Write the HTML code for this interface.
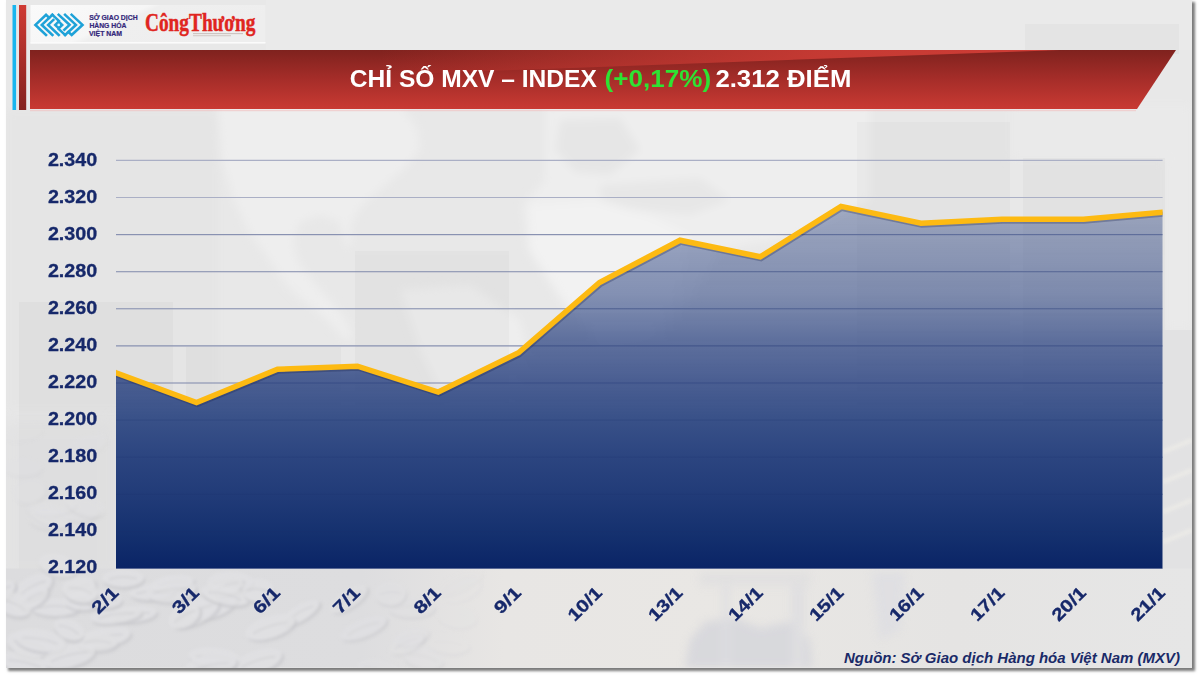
<!DOCTYPE html>
<html lang="vi">
<head>
<meta charset="utf-8">
<title>CHỈ SỐ MXV – INDEX</title>
<style>
html,body{margin:0;padding:0;background:#fff;}
body{width:1200px;height:675px;overflow:hidden;position:relative;font-family:"Liberation Sans",sans-serif;}
#slide{position:absolute;left:6px;top:0;width:1186px;height:667.5px;background:#e8e8e8;box-shadow:2px 2px 2.5px 0.5px rgba(0,0,0,0.52);}
svg{position:absolute;left:0;top:0;}
text{font-family:"Liberation Sans",sans-serif;}
.serif{font-family:"Liberation Serif",serif;}
</style>
</head>
<body>
<div id="slide"></div>
<svg width="1200" height="675" viewBox="0 0 1200 675">
<defs>
  <linearGradient id="gBanner" x1="0" y1="0" x2="0" y2="1">
    <stop offset="0" stop-color="#7f221e"/>
    <stop offset="0.5" stop-color="#a62d29"/>
    <stop offset="1" stop-color="#c93a33"/>
  </linearGradient>
  <linearGradient id="gWedge" gradientUnits="userSpaceOnUse" x1="380" y1="0" x2="1060" y2="0">
    <stop offset="0" stop-color="#cc3c35" stop-opacity="0"/>
    <stop offset="0.35" stop-color="#cc3c35" stop-opacity="0.5"/>
    <stop offset="0.65" stop-color="#cc3c35" stop-opacity="0.9"/>
    <stop offset="1" stop-color="#cf3d36" stop-opacity="1"/>
  </linearGradient>
  <linearGradient id="gRedBar" x1="0" y1="0" x2="0" y2="1">
    <stop offset="0" stop-color="#cf3a33"/>
    <stop offset="1" stop-color="#84231f"/>
  </linearGradient>
  <linearGradient id="gArea" gradientUnits="userSpaceOnUse" x1="0" y1="206" x2="0" y2="568">
    <stop offset="0" stop-color="#3a5089" stop-opacity="0.42"/>
    <stop offset="0.25" stop-color="#3a5089" stop-opacity="0.61"/>
    <stop offset="0.37" stop-color="#3a5089" stop-opacity="0.79"/>
    <stop offset="0.48" stop-color="#3a5089" stop-opacity="0.905"/>
    <stop offset="0.58" stop-color="#3a5289" stop-opacity="1"/>
    <stop offset="0.69" stop-color="#2c4580"/>
    <stop offset="0.80" stop-color="#213b78"/>
    <stop offset="0.91" stop-color="#14306e"/>
    <stop offset="1" stop-color="#0a2466"/>
  </linearGradient>
  <linearGradient id="gLogoBox" x1="0" y1="0" x2="1" y2="0.35">
    <stop offset="0" stop-color="#fafafa"/>
    <stop offset="0.45" stop-color="#f6f6f6"/>
    <stop offset="0.5" stop-color="#efefef"/>
    <stop offset="1" stop-color="#eeeeee"/>
  </linearGradient>
  <linearGradient id="gBottom" gradientUnits="userSpaceOnUse" x1="6" y1="0" x2="1192" y2="0">
    <stop offset="0" stop-color="#dcdcde"/>
    <stop offset="0.3" stop-color="#dddddf"/>
    <stop offset="0.42" stop-color="#e8e6e4"/>
    <stop offset="0.6" stop-color="#e9e7e4"/>
    <stop offset="0.8" stop-color="#e5e4e3"/>
    <stop offset="1" stop-color="#e6e6e6"/>
  </linearGradient>
  <filter id="blur8" x="-20%" y="-20%" width="140%" height="140%"><feGaussianBlur stdDeviation="8"/></filter>
  <filter id="blur1" x="-20%" y="-20%" width="140%" height="140%"><feGaussianBlur stdDeviation="1.6"/></filter>
  <filter id="blur3" x="-20%" y="-20%" width="140%" height="140%"><feGaussianBlur stdDeviation="4"/></filter>
  <clipPath id="clipSlide"><rect x="6" y="0" width="1186" height="667.5"/></clipPath>
  <clipPath id="clipPlot"><rect x="116" y="100" width="1046.6" height="480"/></clipPath>
</defs>

<g clip-path="url(#clipSlide)" id="bg">
  <rect x="6" y="0" width="1186" height="668" fill="#e8e8e8"/>
  <!-- top strip a bit lighter -->
  <rect x="266" y="0" width="930" height="50" fill="#eaeaea"/>
  <!-- faint world map -->
  <g filter="url(#blur3)">
    <rect x="6" y="110" width="212" height="300" fill="#e5e5e5"/>
    <path d="M217,104 L222,160 L232,195 L248,230 L268,258 L285,283 L300,298 L318,312 L335,328 L347,342 L352,335 L345,318 L330,300 L312,280 L298,262 L293,240 L300,222 L320,215 L340,222 L347,250 L352,240 L350,225 L362,205 L385,185 L405,168 L420,150 L418,130 L400,104 Z" fill="#eeeeee"/>
    <path d="M400,290 L470,285 L520,320 L530,360 L500,420 L470,440 L445,400 L420,350 Z" fill="#eeeeee"/>
    <path d="M545,104 L870,104 L870,200 L800,235 L720,250 L690,300 L660,340 L600,345 L560,300 L528,250 L523,205 L545,180 Z" fill="#eeeeee"/>
    <path d="M560,120 L620,118 L640,150 L610,175 L575,172 L555,150 Z" fill="#e6e6e6"/>
    <path d="M600,185 L700,178 L730,200 L690,215 L640,210 L600,205 Z" fill="#e7e7e7"/>
    <path d="M530,205 L600,200 L650,215 L690,235 L680,290 L650,340 L600,345 L565,300 L530,250 Z" fill="#f2f2f2"/>
    <path d="M1010,104 L1192,104 L1192,330 L1165,330 L1165,160 L1010,160 Z" fill="#eaeaea"/>
  </g>
  <!-- faint bar shapes -->
  <g fill="#000" opacity="0.02">
    <rect x="19" y="302" width="154" height="270"/>
    <rect x="186" y="347" width="155" height="225"/>
    <rect x="355" y="251" width="154" height="320"/>
    <rect x="857" y="122" width="153" height="450"/>
    <rect x="1023" y="158" width="142" height="420"/>
    <rect x="1025" y="24" width="154" height="30"/>
  </g>
  <!-- left/right margins lower part -->
  <rect x="0" y="420" width="116" height="160" fill="#dadadc" opacity="0.4" filter="url(#blur8)"/>
  <rect x="1163" y="330" width="30" height="240" fill="#e0e0e1" opacity="0.8"/>
  <g stroke="#ecebe7" stroke-width="5" opacity="0.8" filter="url(#blur1)"><line x1="1163" y1="452" x2="1192" y2="440"/><line x1="1163" y1="482" x2="1192" y2="470"/><line x1="1163" y1="512" x2="1192" y2="500"/><line x1="1163" y1="542" x2="1192" y2="530"/></g>
  <!-- bottom band -->
  <rect x="6" y="568.5" width="1186" height="100" fill="url(#gBottom)"/>
  <g filter="url(#blur1)"><g transform="translate(152,592) rotate(-3)" opacity="0.75"><ellipse cx="1.5" cy="3" rx="23" ry="8" fill="#c8c8cc"/><ellipse rx="23" ry="8" fill="#e1e1e3"/><path d="M-16,1 Q0,-3 16,1" stroke="#cfcfd2" stroke-width="1.5" fill="none"/></g><g transform="translate(172,583) rotate(-9)" opacity="0.75"><ellipse cx="1.5" cy="3" rx="22" ry="8" fill="#c8c8cc"/><ellipse rx="22" ry="8" fill="#e1e1e3"/><path d="M-15,1 Q0,-3 15,1" stroke="#cfcfd2" stroke-width="1.5" fill="none"/></g><g transform="translate(33,587) rotate(-28)" opacity="0.75"><ellipse cx="1.5" cy="3" rx="21" ry="11" fill="#c8c8cc"/><ellipse rx="21" ry="11" fill="#e1e1e3"/><path d="M-14,1 Q0,-3 14,1" stroke="#cfcfd2" stroke-width="1.5" fill="none"/></g><g transform="translate(105,637) rotate(-11)" opacity="0.75"><ellipse cx="1.5" cy="3" rx="26" ry="10" fill="#c8c8cc"/><ellipse rx="26" ry="10" fill="#e1e1e3"/><path d="M-18,1 Q0,-3 18,1" stroke="#cfcfd2" stroke-width="1.5" fill="none"/></g><g transform="translate(459,582) rotate(-26)" opacity="0.10"><ellipse cx="1.5" cy="3" rx="25" ry="9" fill="#c8c8cc"/><ellipse rx="25" ry="9" fill="#e1e1e3"/><path d="M-18,1 Q0,-3 18,1" stroke="#cfcfd2" stroke-width="1.5" fill="none"/></g><g transform="translate(55,607) rotate(-0)" opacity="0.75"><ellipse cx="1.5" cy="3" rx="25" ry="9" fill="#c8c8cc"/><ellipse rx="25" ry="9" fill="#e1e1e3"/><path d="M-17,1 Q0,-3 17,1" stroke="#cfcfd2" stroke-width="1.5" fill="none"/></g><g transform="translate(300,613) rotate(-31)" opacity="0.75"><ellipse cx="1.5" cy="3" rx="22" ry="8" fill="#c8c8cc"/><ellipse rx="22" ry="8" fill="#e1e1e3"/><path d="M-15,1 Q0,-3 15,1" stroke="#cfcfd2" stroke-width="1.5" fill="none"/></g><g transform="translate(97,642) rotate(0)" opacity="0.75"><ellipse cx="1.5" cy="3" rx="21" ry="9" fill="#c8c8cc"/><ellipse rx="21" ry="9" fill="#e1e1e3"/><path d="M-14,1 Q0,-3 14,1" stroke="#cfcfd2" stroke-width="1.5" fill="none"/></g><g transform="translate(213,606) rotate(-20)" opacity="0.75"><ellipse cx="1.5" cy="3" rx="25" ry="11" fill="#c8c8cc"/><ellipse rx="25" ry="11" fill="#e1e1e3"/><path d="M-17,1 Q0,-3 17,1" stroke="#cfcfd2" stroke-width="1.5" fill="none"/></g><g transform="translate(270,627) rotate(-18)" opacity="0.75"><ellipse cx="1.5" cy="3" rx="26" ry="11" fill="#c8c8cc"/><ellipse rx="26" ry="11" fill="#e1e1e3"/><path d="M-18,1 Q0,-3 18,1" stroke="#cfcfd2" stroke-width="1.5" fill="none"/></g><g transform="translate(461,589) rotate(-26)" opacity="0.09"><ellipse cx="1.5" cy="3" rx="21" ry="11" fill="#c8c8cc"/><ellipse rx="21" ry="11" fill="#e1e1e3"/><path d="M-14,1 Q0,-3 14,1" stroke="#cfcfd2" stroke-width="1.5" fill="none"/></g><g transform="translate(230,582) rotate(-1)" opacity="0.75"><ellipse cx="1.5" cy="3" rx="23" ry="11" fill="#c8c8cc"/><ellipse rx="23" ry="11" fill="#e1e1e3"/><path d="M-16,1 Q0,-3 16,1" stroke="#cfcfd2" stroke-width="1.5" fill="none"/></g><g transform="translate(411,607) rotate(-0)" opacity="0.32"><ellipse cx="1.5" cy="3" rx="24" ry="10" fill="#c8c8cc"/><ellipse rx="24" ry="10" fill="#e1e1e3"/><path d="M-17,1 Q0,-3 17,1" stroke="#cfcfd2" stroke-width="1.5" fill="none"/></g><g transform="translate(214,657) rotate(5)" opacity="0.75"><ellipse cx="1.5" cy="3" rx="26" ry="10" fill="#c8c8cc"/><ellipse rx="26" ry="10" fill="#e1e1e3"/><path d="M-18,1 Q0,-3 18,1" stroke="#cfcfd2" stroke-width="1.5" fill="none"/></g><g transform="translate(29,644) rotate(14)" opacity="0.75"><ellipse cx="1.5" cy="3" rx="23" ry="12" fill="#c8c8cc"/><ellipse rx="23" ry="12" fill="#e1e1e3"/><path d="M-16,1 Q0,-3 16,1" stroke="#cfcfd2" stroke-width="1.5" fill="none"/></g><g transform="translate(134,614) rotate(-7)" opacity="0.75"><ellipse cx="1.5" cy="3" rx="23" ry="8" fill="#c8c8cc"/><ellipse rx="23" ry="8" fill="#e1e1e3"/><path d="M-16,1 Q0,-3 16,1" stroke="#cfcfd2" stroke-width="1.5" fill="none"/></g><g transform="translate(79,589) rotate(-27)" opacity="0.75"><ellipse cx="1.5" cy="3" rx="17" ry="11" fill="#c8c8cc"/><ellipse rx="17" ry="11" fill="#e1e1e3"/><path d="M-12,1 Q0,-3 12,1" stroke="#cfcfd2" stroke-width="1.5" fill="none"/></g><g transform="translate(116,615) rotate(-8)" opacity="0.75"><ellipse cx="1.5" cy="3" rx="26" ry="8" fill="#c8c8cc"/><ellipse rx="26" ry="8" fill="#e1e1e3"/><path d="M-18,1 Q0,-3 18,1" stroke="#cfcfd2" stroke-width="1.5" fill="none"/></g><g transform="translate(258,661) rotate(-18)" opacity="0.75"><ellipse cx="1.5" cy="3" rx="25" ry="11" fill="#c8c8cc"/><ellipse rx="25" ry="11" fill="#e1e1e3"/><path d="M-18,1 Q0,-3 18,1" stroke="#cfcfd2" stroke-width="1.5" fill="none"/></g><g transform="translate(195,612) rotate(-26)" opacity="0.75"><ellipse cx="1.5" cy="3" rx="26" ry="12" fill="#c8c8cc"/><ellipse rx="26" ry="12" fill="#e1e1e3"/><path d="M-18,1 Q0,-3 18,1" stroke="#cfcfd2" stroke-width="1.5" fill="none"/></g><g transform="translate(83,600) rotate(0)" opacity="0.75"><ellipse cx="1.5" cy="3" rx="19" ry="10" fill="#c8c8cc"/><ellipse rx="19" ry="10" fill="#e1e1e3"/><path d="M-13,1 Q0,-3 13,1" stroke="#cfcfd2" stroke-width="1.5" fill="none"/></g><g transform="translate(123,578) rotate(-1)" opacity="0.75"><ellipse cx="1.5" cy="3" rx="21" ry="9" fill="#c8c8cc"/><ellipse rx="21" ry="9" fill="#e1e1e3"/><path d="M-14,1 Q0,-3 14,1" stroke="#cfcfd2" stroke-width="1.5" fill="none"/></g><g transform="translate(448,643) rotate(6)" opacity="0.15"><ellipse cx="1.5" cy="3" rx="22" ry="10" fill="#c8c8cc"/><ellipse rx="22" ry="10" fill="#e1e1e3"/><path d="M-15,1 Q0,-3 15,1" stroke="#cfcfd2" stroke-width="1.5" fill="none"/></g><g transform="translate(25,663) rotate(13)" opacity="0.75"><ellipse cx="1.5" cy="3" rx="25" ry="11" fill="#c8c8cc"/><ellipse rx="25" ry="11" fill="#e1e1e3"/><path d="M-17,1 Q0,-3 17,1" stroke="#cfcfd2" stroke-width="1.5" fill="none"/></g><g transform="translate(184,616) rotate(-31)" opacity="0.75"><ellipse cx="1.5" cy="3" rx="17" ry="11" fill="#c8c8cc"/><ellipse rx="17" ry="11" fill="#e1e1e3"/><path d="M-12,1 Q0,-3 12,1" stroke="#cfcfd2" stroke-width="1.5" fill="none"/></g><g transform="translate(32,598) rotate(-32)" opacity="0.75"><ellipse cx="1.5" cy="3" rx="18" ry="9" fill="#c8c8cc"/><ellipse rx="18" ry="9" fill="#e1e1e3"/><path d="M-12,1 Q0,-3 12,1" stroke="#cfcfd2" stroke-width="1.5" fill="none"/></g><g transform="translate(0,592) rotate(-33)" opacity="0.75"><ellipse cx="1.5" cy="3" rx="17" ry="9" fill="#c8c8cc"/><ellipse rx="17" ry="9" fill="#e1e1e3"/><path d="M-12,1 Q0,-3 12,1" stroke="#cfcfd2" stroke-width="1.5" fill="none"/></g><g transform="translate(411,636) rotate(-14)" opacity="0.32"><ellipse cx="1.5" cy="3" rx="18" ry="9" fill="#c8c8cc"/><ellipse rx="18" ry="9" fill="#e1e1e3"/><path d="M-12,1 Q0,-3 12,1" stroke="#cfcfd2" stroke-width="1.5" fill="none"/></g><g transform="translate(171,590) rotate(-7)" opacity="0.75"><ellipse cx="1.5" cy="3" rx="25" ry="12" fill="#c8c8cc"/><ellipse rx="25" ry="12" fill="#e1e1e3"/><path d="M-18,1 Q0,-3 18,1" stroke="#cfcfd2" stroke-width="1.5" fill="none"/></g><g transform="translate(227,586) rotate(-19)" opacity="0.75"><ellipse cx="1.5" cy="3" rx="17" ry="9" fill="#c8c8cc"/><ellipse rx="17" ry="9" fill="#e1e1e3"/><path d="M-12,1 Q0,-3 12,1" stroke="#cfcfd2" stroke-width="1.5" fill="none"/></g><g transform="translate(390,593) rotate(-3)" opacity="0.42"><ellipse cx="1.5" cy="3" rx="16" ry="12" fill="#c8c8cc"/><ellipse rx="16" ry="12" fill="#e1e1e3"/><path d="M-11,1 Q0,-3 11,1" stroke="#cfcfd2" stroke-width="1.5" fill="none"/></g><g transform="translate(69,629) rotate(24)" opacity="0.75"><ellipse cx="1.5" cy="3" rx="16" ry="10" fill="#c8c8cc"/><ellipse rx="16" ry="10" fill="#e1e1e3"/><path d="M-11,1 Q0,-3 11,1" stroke="#cfcfd2" stroke-width="1.5" fill="none"/></g><g transform="translate(406,643) rotate(-25)" opacity="0.35"><ellipse cx="1.5" cy="3" rx="19" ry="9" fill="#c8c8cc"/><ellipse rx="19" ry="9" fill="#e1e1e3"/><path d="M-13,1 Q0,-3 13,1" stroke="#cfcfd2" stroke-width="1.5" fill="none"/></g><g transform="translate(363,628) rotate(-22)" opacity="0.55"><ellipse cx="1.5" cy="3" rx="25" ry="9" fill="#c8c8cc"/><ellipse rx="25" ry="9" fill="#e1e1e3"/><path d="M-17,1 Q0,-3 17,1" stroke="#cfcfd2" stroke-width="1.5" fill="none"/></g><g transform="translate(381,671) rotate(14)" opacity="0.46"><ellipse cx="1.5" cy="3" rx="25" ry="11" fill="#c8c8cc"/><ellipse rx="25" ry="11" fill="#e1e1e3"/><path d="M-18,1 Q0,-3 18,1" stroke="#cfcfd2" stroke-width="1.5" fill="none"/></g><g transform="translate(348,599) rotate(-33)" opacity="0.62"><ellipse cx="1.5" cy="3" rx="22" ry="9" fill="#c8c8cc"/><ellipse rx="22" ry="9" fill="#e1e1e3"/><path d="M-15,1 Q0,-3 15,1" stroke="#cfcfd2" stroke-width="1.5" fill="none"/></g><g transform="translate(13,604) rotate(22)" opacity="0.75"><ellipse cx="1.5" cy="3" rx="19" ry="11" fill="#c8c8cc"/><ellipse rx="19" ry="11" fill="#e1e1e3"/><path d="M-13,1 Q0,-3 13,1" stroke="#cfcfd2" stroke-width="1.5" fill="none"/></g><g transform="translate(210,666) rotate(-13)" opacity="0.75"><ellipse cx="1.5" cy="3" rx="27" ry="12" fill="#c8c8cc"/><ellipse rx="27" ry="12" fill="#e1e1e3"/><path d="M-19,1 Q0,-3 19,1" stroke="#cfcfd2" stroke-width="1.5" fill="none"/></g><g transform="translate(104,599) rotate(2)" opacity="0.75"><ellipse cx="1.5" cy="3" rx="18" ry="9" fill="#c8c8cc"/><ellipse rx="18" ry="9" fill="#e1e1e3"/><path d="M-13,1 Q0,-3 13,1" stroke="#cfcfd2" stroke-width="1.5" fill="none"/></g><g transform="translate(423,657) rotate(13)" opacity="0.27"><ellipse cx="1.5" cy="3" rx="21" ry="11" fill="#c8c8cc"/><ellipse rx="21" ry="11" fill="#e1e1e3"/><path d="M-15,1 Q0,-3 15,1" stroke="#cfcfd2" stroke-width="1.5" fill="none"/></g><g transform="translate(40,640) rotate(10)" opacity="0.75"><ellipse cx="1.5" cy="3" rx="26" ry="11" fill="#c8c8cc"/><ellipse rx="26" ry="11" fill="#e1e1e3"/><path d="M-18,1 Q0,-3 18,1" stroke="#cfcfd2" stroke-width="1.5" fill="none"/></g><g transform="translate(225,595) rotate(13)" opacity="0.75"><ellipse cx="1.5" cy="3" rx="25" ry="9" fill="#c8c8cc"/><ellipse rx="25" ry="9" fill="#e1e1e3"/><path d="M-17,1 Q0,-3 17,1" stroke="#cfcfd2" stroke-width="1.5" fill="none"/></g><g transform="translate(457,615) rotate(8)" opacity="0.11"><ellipse cx="1.5" cy="3" rx="20" ry="12" fill="#c8c8cc"/><ellipse rx="20" ry="12" fill="#e1e1e3"/><path d="M-14,1 Q0,-3 14,1" stroke="#cfcfd2" stroke-width="1.5" fill="none"/></g><g transform="translate(80,590) rotate(13)" opacity="0.75"><ellipse cx="1.5" cy="3" rx="18" ry="12" fill="#c8c8cc"/><ellipse rx="18" ry="12" fill="#e1e1e3"/><path d="M-12,1 Q0,-3 12,1" stroke="#cfcfd2" stroke-width="1.5" fill="none"/></g><g transform="translate(69,656) rotate(-14)" opacity="0.75"><ellipse cx="1.5" cy="3" rx="27" ry="11" fill="#c8c8cc"/><ellipse rx="27" ry="11" fill="#e1e1e3"/><path d="M-19,1 Q0,-3 19,1" stroke="#cfcfd2" stroke-width="1.5" fill="none"/></g><g transform="translate(258,590) rotate(4)" opacity="0.75"><ellipse cx="1.5" cy="3" rx="16" ry="12" fill="#c8c8cc"/><ellipse rx="16" ry="12" fill="#e1e1e3"/><path d="M-11,1 Q0,-3 11,1" stroke="#cfcfd2" stroke-width="1.5" fill="none"/></g><g transform="translate(58,565) rotate(15)" opacity="0.46"><ellipse cx="1.5" cy="3" rx="20" ry="11" fill="#cbcbce"/><ellipse rx="20" ry="11" fill="#e2e2e4"/></g><g transform="translate(23,467) rotate(0)" opacity="0.17"><ellipse cx="1.5" cy="3" rx="19" ry="9" fill="#cbcbce"/><ellipse rx="19" ry="9" fill="#e2e2e4"/></g><g transform="translate(29,491) rotate(-14)" opacity="0.24"><ellipse cx="1.5" cy="3" rx="17" ry="12" fill="#cbcbce"/><ellipse rx="17" ry="12" fill="#e2e2e4"/></g><g transform="translate(50,515) rotate(20)" opacity="0.31"><ellipse cx="1.5" cy="3" rx="24" ry="10" fill="#cbcbce"/><ellipse rx="24" ry="10" fill="#e2e2e4"/></g><g transform="translate(55,507) rotate(-9)" opacity="0.29"><ellipse cx="1.5" cy="3" rx="21" ry="8" fill="#cbcbce"/><ellipse rx="21" ry="8" fill="#e2e2e4"/></g><g transform="translate(20,431) rotate(-7)" opacity="0.06"><ellipse cx="1.5" cy="3" rx="23" ry="9" fill="#cbcbce"/><ellipse rx="23" ry="9" fill="#e2e2e4"/></g><g transform="translate(80,511) rotate(-2)" opacity="0.30"><ellipse cx="1.5" cy="3" rx="19" ry="10" fill="#cbcbce"/><ellipse rx="19" ry="10" fill="#e2e2e4"/></g><g transform="translate(86,445) rotate(-18)" opacity="0.10"><ellipse cx="1.5" cy="3" rx="21" ry="9" fill="#cbcbce"/><ellipse rx="21" ry="9" fill="#e2e2e4"/></g><g transform="translate(85,504) rotate(20)" opacity="0.28"><ellipse cx="1.5" cy="3" rx="21" ry="11" fill="#cbcbce"/><ellipse rx="21" ry="11" fill="#e2e2e4"/></g><g transform="translate(49,519) rotate(7)" opacity="0.32"><ellipse cx="1.5" cy="3" rx="21" ry="10" fill="#cbcbce"/><ellipse rx="21" ry="10" fill="#e2e2e4"/></g></g>
  <g filter="url(#blur3)" opacity="0.85">
    <path d="M685,668 L690,640 L705,622 L735,618 L760,628 L790,622 L810,640 L812,668 Z" fill="#d5d6db"/>
    <rect x="723" y="585" width="6" height="83" fill="#dcdce0"/>
    <rect x="792" y="575" width="12" height="93" fill="#dddde0"/>
    <path d="M872,572 L905,572 L900,630 L880,640 Z" fill="#dedee2"/>
    <rect x="700" y="572" width="110" height="14" fill="#e0dfe0"/>
  </g>
</g>
<rect x="30" y="109.9" width="1106" height="1.3" fill="#f3b9b9" opacity="0.55"/>

<!-- left accent bars -->
<rect x="12.5" y="5" width="3.6" height="105" fill="#19b5ee"/>
<rect x="19" y="5" width="7.2" height="105" fill="url(#gRedBar)"/>

<!-- logo box -->
<rect x="30.5" y="5" width="235" height="38.5" fill="url(#gLogoBox)"/>
<rect x="30.5" y="42" width="235" height="1.5" fill="#fbfbfb"/>

<!-- MXV icon -->
<g transform="translate(30,8) scale(0.05038) translate(575,335) scale(0.935,0.89) translate(-575,-335)" fill="none" stroke="#1ea2d8" stroke-width="56" stroke-linecap="square" stroke-linejoin="miter" id="mxv">
  <path d="M365,175 L300,110 L75,335 L300,560"/>
  <path d="M435,110 L210,335 L435,560"/>
  <path d="M455,225 L345,335 L570,560"/>
  <path d="M435,110 L570,245"/>
  <path d="M705,560 L570,425"/>
  <path d="M845,110 L1075,335 L845,560 L775,495"/>
  <path d="M705,110 L935,335 L705,560"/>
  <path d="M570,110 L800,335 L690,445"/>
  <path d="M570,262 L643,335 L570,408 L497,335 Z" fill="#1ea2d8"/>
</g>
<circle cx="58.7" cy="24.9" r="1.35" fill="#e6f8ff"/>

<!-- logo text -->
<g font-size="7.1" font-weight="bold" fill="#33277a" stroke="#33277a" stroke-width="0.2" id="sotext">
  <text x="89.2" y="20.4" textLength="48.4" lengthAdjust="spacingAndGlyphs">SỞ GIAO DỊCH</text>
  <text x="89.4" y="28.3" textLength="37" lengthAdjust="spacingAndGlyphs">HÀNG HÓA</text>
  <text x="89" y="36.1" textLength="33" lengthAdjust="spacingAndGlyphs">VIỆT NAM</text>
</g>
<text class="serif" id="ct" x="145" y="31.0" font-size="24.4" font-weight="bold" fill="#e02520" stroke="#e02520" stroke-width="0.45" textLength="110.3" lengthAdjust="spacingAndGlyphs">CôngThương</text>
<rect x="193" y="33.2" width="50" height="0.9" fill="#a58f86" opacity="0.55"/>
<rect x="193" y="35.3" width="38" height="0.9" fill="#a58f86" opacity="0.45"/>

<!-- banner -->
<polygon points="30,50 1176,50 1137,109 30,109" fill="url(#gBanner)"/>
<polygon points="380,50 1060,50 380,75" fill="url(#gWedge)"/>

<!-- title -->
<text id="title" x="349.8" y="86.6" font-size="24" font-weight="bold" fill="#ffffff"><tspan id="t1" textLength="247" lengthAdjust="spacingAndGlyphs">CHỈ SỐ MXV – INDEX</tspan><tspan id="t2" x="604.6" fill="#2fe233" textLength="106.6" lengthAdjust="spacingAndGlyphs">(+0,17%)</tspan><tspan id="t3" x="715.4" textLength="136" lengthAdjust="spacingAndGlyphs">2.312 ĐIỂM</tspan></text>

<!-- gridlines -->
<g stroke="#aaafc5" stroke-width="1.1" id="grid"><line x1="116" x2="1162.6" y1="160.4" y2="160.4"/><line x1="116" x2="1162.6" y1="197.5" y2="197.5"/><line x1="116" x2="1162.6" y1="234.6" y2="234.6"/><line x1="116" x2="1162.6" y1="271.7" y2="271.7"/><line x1="116" x2="1162.6" y1="308.8" y2="308.8"/><line x1="116" x2="1162.6" y1="345.9" y2="345.9"/><line x1="116" x2="1162.6" y1="383.0" y2="383.0"/><line x1="116" x2="1162.6" y1="420.1" y2="420.1"/><line x1="116" x2="1162.6" y1="457.2" y2="457.2"/><line x1="116" x2="1162.6" y1="494.3" y2="494.3"/><line x1="116" x2="1162.6" y1="531.4" y2="531.4"/><line x1="116" x2="1162.6" y1="568.5" y2="568.5"/></g>

<!-- area -->
<path id="area" d="M116.0,372.8 L196.5,402.5 L277.5,369.2 L357.5,366.2 L438.2,392.0 L518.5,352.8 L599.5,282.5 L680.0,240.2 L760.2,256.8 L841.0,206.4 L921.0,223.2 L1002.0,219.2 L1083.5,219.2 L1162.5,212.2 L1162.5,568.5 L116,568.5 Z" fill="url(#gArea)"/>
<g stroke="#1b2f6e" stroke-width="1" opacity="0.25" id="grid2"><line x1="116" x2="1162.6" y1="234.6" y2="234.6"/><line x1="116" x2="1162.6" y1="271.7" y2="271.7"/><line x1="116" x2="1162.6" y1="308.8" y2="308.8"/><line x1="116" x2="1162.6" y1="345.9" y2="345.9"/><line x1="116" x2="1162.6" y1="383.0" y2="383.0"/><line x1="116" x2="1162.6" y1="420.1" y2="420.1"/><line x1="116" x2="1162.6" y1="457.2" y2="457.2"/><line x1="116" x2="1162.6" y1="494.3" y2="494.3"/><line x1="116" x2="1162.6" y1="531.4" y2="531.4"/></g>

<g clip-path="url(#clipPlot)">
<path d="M106.0,369.1 L116.0,372.8 L196.5,402.5 L277.5,369.2 L357.5,366.2 L438.2,392.0 L518.5,352.8 L599.5,282.5 L680.0,240.2 L760.2,256.8 L841.0,206.4 L921.0,223.2 L1002.0,219.2 L1083.5,219.2 L1162.5,212.2 L1172.5,211.3" fill="none" stroke="#1a2550" stroke-opacity="0.3" stroke-width="5.5" stroke-linejoin="miter" transform="translate(0.8,1.8)"/>
<path id="line" d="M106.0,369.1 L116.0,372.8 L196.5,402.5 L277.5,369.2 L357.5,366.2 L438.2,392.0 L518.5,352.8 L599.5,282.5 L680.0,240.2 L760.2,256.8 L841.0,206.4 L921.0,223.2 L1002.0,219.2 L1083.5,219.2 L1162.5,212.2 L1172.5,211.3" fill="none" stroke="#fdba12" stroke-width="5.5" stroke-linejoin="miter"/>
</g>

<!-- y labels -->
<g font-size="18.2" font-weight="bold" fill="#16286a" stroke="#16286a" stroke-width="0.28" id="ylabels"><text x="47.9" y="166.4" textLength="49.4" lengthAdjust="spacingAndGlyphs">2.340</text><text x="47.9" y="203.4" textLength="49.4" lengthAdjust="spacingAndGlyphs">2.320</text><text x="47.9" y="240.4" textLength="49.4" lengthAdjust="spacingAndGlyphs">2.300</text><text x="47.9" y="277.4" textLength="49.4" lengthAdjust="spacingAndGlyphs">2.280</text><text x="47.9" y="314.4" textLength="49.4" lengthAdjust="spacingAndGlyphs">2.260</text><text x="47.9" y="351.4" textLength="49.4" lengthAdjust="spacingAndGlyphs">2.240</text><text x="47.9" y="388.4" textLength="49.4" lengthAdjust="spacingAndGlyphs">2.220</text><text x="47.9" y="425.4" textLength="49.4" lengthAdjust="spacingAndGlyphs">2.200</text><text x="47.9" y="462.4" textLength="49.4" lengthAdjust="spacingAndGlyphs">2.180</text><text x="47.9" y="499.4" textLength="49.4" lengthAdjust="spacingAndGlyphs">2.160</text><text x="47.9" y="536.4" textLength="49.4" lengthAdjust="spacingAndGlyphs">2.140</text><text x="47.9" y="573.4" textLength="49.4" lengthAdjust="spacingAndGlyphs">2.120</text></g>

<!-- x labels -->
<g font-size="17.4" font-weight="bold" fill="#16286a" stroke="#16286a" stroke-width="0.3" text-anchor="end" id="xlabels"><text transform="translate(119.8,593.7) rotate(-45)" textLength="30" lengthAdjust="spacingAndGlyphs">2/1</text><text transform="translate(200.3,593.7) rotate(-45)" textLength="30" lengthAdjust="spacingAndGlyphs">3/1</text><text transform="translate(281.3,593.7) rotate(-45)" textLength="30" lengthAdjust="spacingAndGlyphs">6/1</text><text transform="translate(361.3,593.7) rotate(-45)" textLength="30" lengthAdjust="spacingAndGlyphs">7/1</text><text transform="translate(442.0,593.7) rotate(-45)" textLength="30" lengthAdjust="spacingAndGlyphs">8/1</text><text transform="translate(522.3,593.7) rotate(-45)" textLength="30" lengthAdjust="spacingAndGlyphs">9/1</text><text transform="translate(603.3,593.7) rotate(-45)" textLength="40.5" lengthAdjust="spacingAndGlyphs">10/1</text><text transform="translate(683.8,593.7) rotate(-45)" textLength="40.5" lengthAdjust="spacingAndGlyphs">13/1</text><text transform="translate(764.0,593.7) rotate(-45)" textLength="40.5" lengthAdjust="spacingAndGlyphs">14/1</text><text transform="translate(844.8,593.7) rotate(-45)" textLength="40.5" lengthAdjust="spacingAndGlyphs">15/1</text><text transform="translate(924.8,593.7) rotate(-45)" textLength="40.5" lengthAdjust="spacingAndGlyphs">16/1</text><text transform="translate(1005.8,593.7) rotate(-45)" textLength="40.5" lengthAdjust="spacingAndGlyphs">17/1</text><text transform="translate(1087.3,593.7) rotate(-45)" textLength="40.5" lengthAdjust="spacingAndGlyphs">20/1</text><text transform="translate(1166.3,593.7) rotate(-45)" textLength="40.5" lengthAdjust="spacingAndGlyphs">21/1</text></g>

<!-- source -->
<text id="source" x="844" y="663.4" font-size="15" font-weight="bold" font-style="italic" fill="#1a2a68" textLength="336" lengthAdjust="spacingAndGlyphs">Nguồn: Sở Giao dịch Hàng hóa Việt Nam (MXV)</text>
</svg>
</body>
</html>
